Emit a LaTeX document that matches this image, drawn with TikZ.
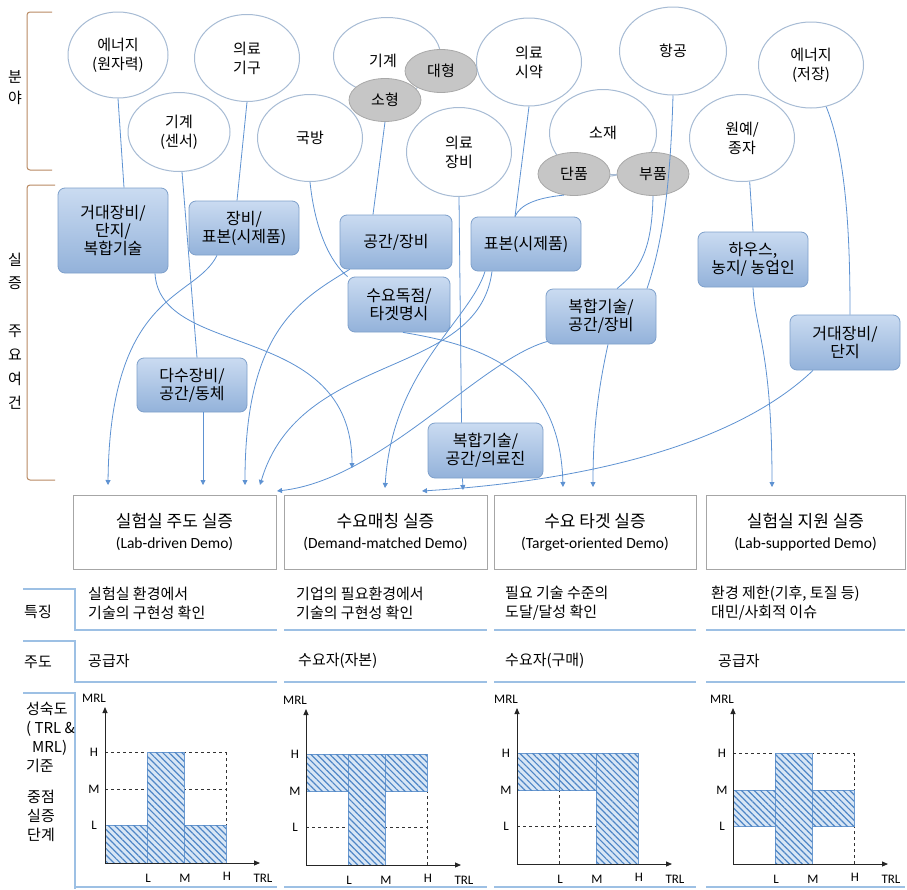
\documentclass[tikz,border=0pt]{standalone}
\usepackage{fontspec}
\setmainfont{Noto Sans CJK KR}
\newfontfamily\enfont{Carlito}
\usetikzlibrary{shapes.geometric,arrows.meta,patterns.meta,calc}
\definecolor{ellb}{HTML}{A7BBD4}
\definecolor{gellf}{HTML}{C6C6C6}
\definecolor{gellb}{HTML}{A8A8A8}
\definecolor{boxt}{HTML}{CADBF1}
\definecolor{boxbot}{HTML}{93B2DA}
\definecolor{boxb}{HTML}{7EA0CB}
\definecolor{connc}{HTML}{5E92D2}
\definecolor{demob}{HTML}{A6A6A6}
\definecolor{tabc}{HTML}{9DC0E4}
\definecolor{brk}{HTML}{B98A63}
\definecolor{hatchf}{HTML}{D8E6F5}
\definecolor{hatchl}{HTML}{4F86C6}
\definecolor{hatchb}{HTML}{6C9AD0}
\newcommand\kfnt{\fontsize{15}{19}\selectfont}
\newcommand\bfnt{\fontsize{16}{18}\selectfont}
\newcommand\tfnt{\fontsize{17}{20}\selectfont}
\newcommand\efnt{\enfont\fontsize{15.5}{17}\selectfont}
\newcommand\cfnt{\enfont\fontsize{13}{15}\selectfont}
\newcommand\chartgrid{%
  \foreach \v in {38,74,111} \draw[dgrid] (0,-\v) -- (121,-\v);
  \foreach \u in {42,79,121} \draw[dgrid] (\u,0) -- (\u,-111);
}
\newcommand\chartaxes[1]{%
  \draw[axisl] (0,0) -- (0,-156);
  \draw[axisl] (0,0) -- (155,0);
  \node[chl] (#1mrl) at (-11,-165) {MRL};
  \node[chl] (#1yH) at (-11,-111) {H};
  \node[chl] (#1yM) at (-11,-74) {M};
  \node[chl] (#1yL) at (-11,-38) {L};
  \node[chl] (#1xL) at (43,15) {L};
  \node[chl] (#1xM) at (80,15) {M};
  \node[chl] (#1xH) at (122,13) {H};
  \node[chl] (#1trl) at (158,15) {TRL};
}
\begin{document}
\begin{tikzpicture}[x=1pt,y=-1pt,
  ell/.style={ellipse, draw=ellb, line width=1pt, fill=white, inner sep=0pt, align=center, font=\kfnt},
  gell/.style={ellipse, draw=gellb, fill=gellf, line width=0.8pt, minimum width=72pt, minimum height=43pt, inner sep=0pt, font=\kfnt},
  bbox/.style={rectangle, rounded corners=7pt, draw=boxb, line width=0.8pt, top color=boxt, bottom color=boxbot, align=center, inner sep=0pt, font=\bfnt},
  demo/.style={rectangle, draw=demob, line width=0.8pt, fill=white, align=center, inner sep=0pt, minimum height=74pt},
  conn/.style={draw=connc, line width=0.8pt},
  tip/.style={conn, -{Triangle[length=5pt,width=5pt]}},
  tabl/.style={draw=tabc, line width=1.2pt},
  brkl/.style={draw=brk, line width=1pt, rounded corners=3pt},
  lbl/.style={inner sep=0pt, font=\kfnt},
  tx/.style={inner sep=0pt, font=\kfnt, align=left, anchor=west},
  dgrid/.style={draw=black!80, dashed, line width=0.7pt},
  axisl/.style={draw=black!85, line width=0.9pt, -{Triangle[length=6pt,width=5pt]}},
  chl/.style={inner sep=0pt, font=\cfnt},
  hatch/.style={draw=hatchb, line width=0.6pt, fill=hatchf, postaction={pattern={Lines[angle=-45,distance=4.5pt,line width=1.2pt]}, pattern color=hatchl}}
]
\useasboundingbox (0,0) rectangle (907,889);
\fill[white] (0,0) rectangle (907,889);

% brackets and side labels
\draw[brkl] (52,12) -- (27,12) -- (27,170) -- (52,170);
\draw[brkl] (55,185) -- (27,185) -- (27,480) -- (55,480);
\node[lbl] (s1) at (15,77) {분};
\node[lbl] (s2) at (15,98) {야};
\node[lbl] (s3) at (15,260) {실};
\node[lbl] (s4) at (15,283) {증};
\node[lbl] (s5) at (15,331) {주};
\node[lbl] (s6) at (15,355) {요};
\node[lbl] (s7) at (15,379) {여};
\node[lbl] (s8) at (15,403) {건};

% ellipses
\node[ell, minimum width=100pt, minimum height=86pt] (e1) at (118,55) {에너지\\(원자력)};
\node[ell, minimum width=105pt, minimum height=87pt] (e2) at (247,58) {의료\\기구};
\node[ell, minimum width=102pt, minimum height=79pt] (e3) at (179,132) {기계\\(센서)};
\node[ell, minimum width=105pt, minimum height=87pt] (e4) at (310,138) {국방};
\node[ell, minimum width=107pt, minimum height=77pt] (e5) at (387,56) {};
\node[lbl] (e5t) at (383,61) {기계};
\node[gell] (big) at (441,71) {대형};
\node[gell] (small) at (385,100) {소형};
\node[ell, minimum width=105pt, minimum height=89pt] (e6) at (459,152) {의료\\장비};
\node[ell, minimum width=105pt, minimum height=88pt] (e7) at (529,62) {의료\\시약};
\node[ell, minimum width=107pt, minimum height=87pt] (e8) at (603,133) {소재};
\node[gell] (dan) at (574,174) {단품};
\node[gell] (bu) at (653,174) {부품};
\node[ell, minimum width=107pt, minimum height=88pt] (e9) at (673,51) {항공};
\node[ell, minimum width=105pt, minimum height=87pt] (e10) at (742,138) {원예/\\종자};
\node[ell, minimum width=105pt, minimum height=86pt] (e11) at (811,65) {에너지\\(저장)};

% blue boxes
\node[bbox, minimum width=110pt, minimum height=85pt] (A) at (113,230.5) {거대장비/\\단지/\\복합기술};
\node[bbox, minimum width=110pt, minimum height=54pt] (B) at (244,228) {장비/\\표본(시제품)};
\node[bbox, minimum width=112pt, minimum height=54pt] (C) at (396,242) {공간/장비};
\node[bbox, minimum width=102pt, minimum height=55pt] (D) at (399,304.5) {수요독점/\\타겟명시};
\node[bbox, minimum width=110pt, minimum height=54pt] (E) at (192,385) {다수장비/\\공간/동체};
\node[bbox, minimum width=110pt, minimum height=54pt] (F) at (526,244) {표본(시제품)};
\node[bbox, minimum width=110pt, minimum height=55pt] (G) at (601,316.5) {복합기술/\\공간/장비};
\node[bbox, minimum width=110pt, minimum height=55pt] (H) at (753,259.5) {하우스,\\농지/ 농업인};
\node[bbox, minimum width=110pt, minimum height=55pt] (I) at (845,342.5) {거대장비/\\단지};
\node[bbox, minimum width=115pt, minimum height=55pt] (J) at (485.5,450.5) {복합기술/\\공간/의료진};

% demo boxes
\node[demo, minimum width=203pt] (d1) at (174.5,532) {{\tfnt 실험실 주도 실증}\\[7pt]{\efnt (Lab-driven Demo)}};
\node[demo, minimum width=203pt] (d2) at (385.5,532) {{\tfnt 수요매칭 실증}\\[7pt]{\efnt (Demand-matched Demo)}};
\node[demo, minimum width=202pt] (d3) at (595,532) {{\tfnt 수요 타겟 실증}\\[7pt]{\efnt (Target-oriented Demo)}};
\node[demo, minimum width=199pt] (d4) at (805.5,532) {{\tfnt 실험실 지원 실증}\\[7pt]{\efnt (Lab-supported Demo)}};

% arrow tip coordinates
\coordinate (tA) at (352,468);
\coordinate (tB) at (108,485);
\coordinate (tE) at (203,485);
\coordinate (tC) at (245,485);
\coordinate (tF2) at (260,485);
\coordinate (tG2) at (277,491);
\coordinate (tF1) at (385,488);
\coordinate (tI) at (422,491);
\coordinate (tJ) at (463,490);
\coordinate (tD) at (563,487);
\coordinate (tG1) at (593,487);
\coordinate (tH) at (772,487);

% connectors
\draw[conn] (e1.south) -- ($(A.north)+(11,0)$);
\draw[tip] ($(A.south)+(42,0)$) .. controls (160,360) and (352,320) .. (tA);
\draw[conn] (e2.south) -- ($(B.north)+(-7,0)$);
\draw[tip] ($(B.south)+(-27,0)$) .. controls (195,300) and (110,290) .. (tB);
\draw[conn] ($(e3.south)+(3,0)$) -- ($(E.north)+(5,0)$);
\draw[tip] ($(E.south)+(11,0)$) -- (tE);
\draw[conn] (e4.south) .. controls (315,230) and (330,262) .. (D.north west);
\draw[tip] ($(D.south)+(4,0)$) .. controls (480,345) and (560,370) .. (tD);
\draw[conn] (small.south) -- ($(C.north)+(-23,0)$);
\draw[tip] ($(C.south west)+(10,0)$) .. controls (300,300) and (245,330) .. (tC);
\draw[conn] (e6.south) -- ($(J.north)+(-24,0)$);
\draw[tip] ($(J.south)+(-23,0)$) -- (tJ);
\draw[conn] (e7.south) -- ($(F.north)+(-11,0)$);
\draw[conn] (dan.-115) .. controls (535,198) and (520,205) .. ($(F.north)+(-11,0)$);
\draw[conn, draw=ellb] (dan.east) -- (bu.west);
\draw[tip] ($(F.south)+(-41,0)$) .. controls (470,320) and (392,370) .. (tF1);
\draw[tip] ($(F.south)+(-34,0)$) .. controls (478,380) and (300,350) .. (tF2);
\draw[conn] (bu.south) .. controls (652,250) and (640,270) .. ($(G.north)+(16,0)$);
\draw[conn] (e9.south) .. controls (670,200) and (660,250) .. ($(G.north)+(46,0)$);
\draw[tip] ($(G.south)+(7,0)$) .. controls (598,390) and (593,430) .. (tG1);
\draw[tip] ($(G.south west)+(2,-3)$) .. controls (480,360) and (380,480) .. (tG2);
\draw[conn] (e10.-80) -- (H.north);
\draw[tip] (H.south) .. controls (755,330) and (772,350) .. (tH);
\draw[conn] (e11.-70) .. controls (848,160) and (850,250) .. ($(I.north)+(5,0)$);
\draw[tip] ($(I.south)+(-32,0)$) .. controls (740,440) and (600,480) .. (tI);

% table lines
\draw[tabl] (23,589) -- (75,589) -- (75,630) -- (277,630);
\draw[tabl] (23,641) -- (75,641) -- (75,682) -- (277,682);
\draw[tabl] (23,693) -- (75,693) -- (75,889);
\foreach \yy in {630,682} {
  \draw[tabl] (284,\yy) -- (487,\yy);
  \draw[tabl] (494,\yy) -- (696,\yy);
  \draw[tabl] (706,\yy) -- (905,\yy);
}
\draw[tabl] (75,887) -- (277,887);
\draw[tabl] (284,887) -- (487,887);
\draw[tabl] (494,887) -- (696,887);
\draw[tabl] (706,887) -- (905,887);

% table text
\node[lbl] (r1) at (38,612) {특징};
\node[lbl] (r2) at (38,662) {주도};
\node[inner sep=0pt, font=\kfnt, align=left, anchor=north west] (r3) at (26,702) {성숙도\\( TRL \&\\\hspace{6pt}MRL)\\기준};
\node[inner sep=0pt, font=\kfnt, align=left, anchor=north west] (r4) at (27,790) {중점\\실증\\단계};
\node[tx] (t11) at (88,603) {실험실 환경에서\\기술의 구현성 확인};
\node[tx] (t12) at (296,603) {기업의 필요환경에서\\기술의 구현성 확인};
\node[tx] (t13) at (505,603) {필요 기술 수준의\\도달/달성 확인};
\node[tx] (t14) at (711,603) {환경 제한(기후, 토질 등)\\대민/사회적 이슈};
\node[tx] (t21) at (88,661) {공급자};
\node[tx] (t22) at (298,661) {수요자(자본)};
\node[tx] (t23) at (505,661) {수요자(구매)};
\node[tx] (t24) at (718,661) {공급자};

% charts
\begin{scope}[shift={(105,863)}]
  \chartgrid
  \draw[hatch] (0,0) rectangle (42,-38);
  \draw[hatch] (42,0) rectangle (79,-111);
  \draw[hatch] (79,0) rectangle (121,-38);
  \chartaxes{ca}
\end{scope}
\begin{scope}[shift={(306,865)}]
  \chartgrid
  \draw[hatch] (0,-74) rectangle (42,-111);
  \draw[hatch] (42,0) rectangle (79,-111);
  \draw[hatch] (79,-74) rectangle (121,-111);
  \chartaxes{cb}
\end{scope}
\begin{scope}[shift={(517,864)}]
  \chartgrid
  \draw[hatch] (0,-74) rectangle (42,-111);
  \draw[hatch] (42,-74) rectangle (79,-111);
  \draw[hatch] (79,0) rectangle (121,-111);
  \chartaxes{cc}
\end{scope}
\begin{scope}[shift={(733,864)}]
  \chartgrid
  \draw[hatch] (0,-38) rectangle (42,-74);
  \draw[hatch] (42,0) rectangle (79,-111);
  \draw[hatch] (79,-38) rectangle (121,-74);
  \chartaxes{cd}
\end{scope}
\end{tikzpicture}
\end{document}
